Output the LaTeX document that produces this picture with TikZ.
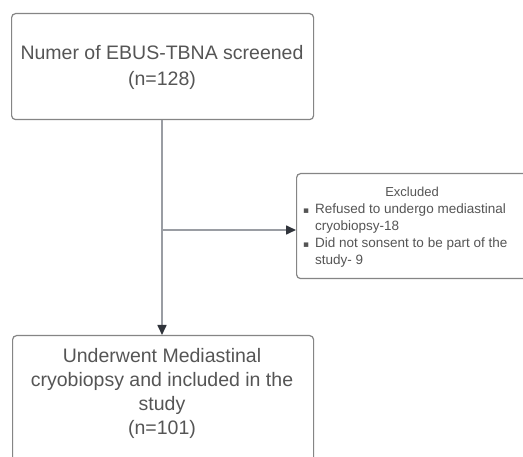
\documentclass[tikz,border=0pt]{standalone}
\usepackage{fontspec}
\setmainfont{Liberation Sans}
\newfontfamily\bulletfont{DejaVu Sans}
\usetikzlibrary{arrows.meta}
\definecolor{txt}{HTML}{555555}
\definecolor{bord}{HTML}{858585}
\definecolor{conn}{HTML}{9A9DA3}
\definecolor{head}{HTML}{30343B}
\begin{document}
\begin{tikzpicture}[x=1pt,y=1pt,
  box/.style={draw=bord, line width=1.2pt, rounded corners=4pt, inner sep=0pt},
  bigtext/.style={text=txt, font=\fontsize{19.5}{26}\selectfont, align=center},
  smalltext/.style={text=txt, font=\fontsize{13.5}{17}\selectfont, align=left, inner sep=0pt},
  conn/.style={draw=conn, line width=1.6pt},
  arr/.style={conn, -{Triangle[length=10pt,width=9pt,fill=head,color=head]}}]
\clip (0,0) rectangle (523,-457);
\fill[white] (0,0) rectangle (523,-457);
% boxes
\node[box, minimum width=302, minimum height=106, anchor=north west] (top) at (11,-13) {};
\node[bigtext] (toptext) at (162,-67) {Numer of EBUS-TBNA screened\\(n=128)};
\node[box, minimum width=245, minimum height=105, anchor=north west] (exc) at (296,-173) {};
\node[box, minimum width=301, minimum height=150, anchor=north west] (bot) at (12,-335) {};
% bottom text
\node[text=txt, font=\fontsize{19.5}{24}\selectfont, align=center, anchor=north] (bottext) at (162,-345)
  {Underwent Mediastinal\\cryobiopsy and included in the\\study\\(n=101)};
% excluded text
\node[text=txt, font=\fontsize{13}{17}\selectfont, anchor=base] (exctitle) at (412,-197) {Excluded};
\node[smalltext, anchor=base west] (b1) at (303,-214) {\bulletfont\fontsize{9}{17}\selectfont ▪};
\node[smalltext, anchor=base west] (i1) at (315,-231) {Refused to undergo mediastinal\\cryobiopsy-18};
\node[smalltext, anchor=base west] (b2) at (303,-248) {\bulletfont\fontsize{9}{17}\selectfont ▪};
\node[smalltext, anchor=base west] (i2) at (315,-265) {Did not sonsent to be part of the\\study- 9};
% connectors
\coordinate (br) at (162,-230);
\draw[arr] (top.south -| br) -- (bot.north -| br);
\draw[arr] (br) -- (exc.west |- br);
\end{tikzpicture}
\end{document}
